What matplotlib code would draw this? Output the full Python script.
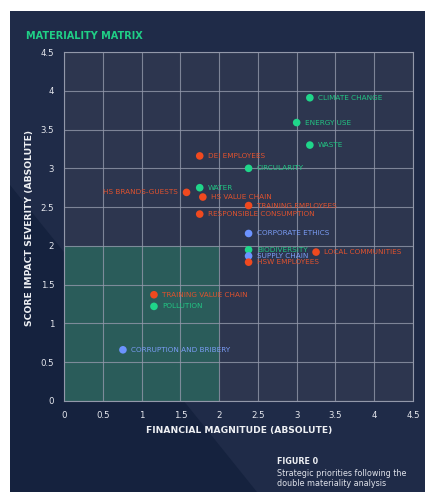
import numpy as np
import matplotlib
matplotlib.use("Agg")
import matplotlib.pyplot as plt
from matplotlib.patches import Polygon, Rectangle

W, H = 425, 492

# data
topics = ["CLIMATE CHANGE", "ENERGY USE", "WASTE", "DEI EMPLOYEES", "CIRCULARITY",
          "WATER", "HS BRANDS-GUESTS", "HS VALUE CHAIN", "TRAINING EMPLOYEES",
          "RESPONSIBLE CONSUMPTION", "CORPORATE ETHICS", "BIODIVERSITY", "SUPPLY CHAIN",
          "HSW EMPLOYEES", "LOCAL COMMUNITIES", "TRAINING VALUE CHAIN", "POLLUTION",
          "CORRUPTION AND BRIBERY"]
financial = [3.17, 3.00, 3.17, 1.75, 2.38, 1.75, 1.58, 1.79, 2.38, 1.75, 2.38, 2.38, 2.38,
             2.38, 3.25, 1.16, 1.16, 0.76]
impact = [3.91, 3.59, 3.30, 3.16, 3.00, 2.75, 2.69, 2.63, 2.52, 2.41, 2.16, 1.95, 1.87,
          1.79, 1.92, 1.37, 1.22, 0.66]
group = ["env", "env", "env", "soc", "env", "env", "soc", "soc", "soc", "soc", "gov", "env",
         "gov", "soc", "soc", "soc", "env", "gov"]
ticks = [0, 0.5, 1, 1.5, 2, 2.5, 3, 3.5, 4, 4.5]
tick_labels = ["0", "0.5", "1", "1.5", "2", "2.5", "3", "3.5", "4", "4.5"]

colors = {"env": "#1fd68a", "soc": "#f0491f", "gov": "#6c93ff"}
label_colors = {"env": "#22c583", "soc": "#e0522e", "gov": "#7a9cf5"}


def fx(px):
    return px / W


def fy(py):
    return 1 - py / H


fig = plt.figure(figsize=(W / 100, H / 100), dpi=100)
fig.patch.set_facecolor("white")

# dark panel with the diagonal split
fig.patches.append(Rectangle((fx(10), 0), 1 - fx(10), fy(11), transform=fig.transFigure,
                             facecolor="#1f2b48", edgecolor="none", zorder=-2))
fig.patches.append(Polygon([(fx(10), fy(185)), (fx(257), fy(492)), (fx(10), fy(492))],
                           closed=True, transform=fig.transFigure,
                           facecolor="#15223e", edgecolor="none", zorder=-1))

ax = fig.add_axes([fx(64), fy(401), (413 - 64) / W, (401 - 52) / H])
ax.set_facecolor("#2d364f")
ax.set_xlim(0, 4.5)
ax.set_ylim(0, 4.5)
ax.add_patch(Rectangle((0, 0), 2, 2, facecolor="#2a5c5a", edgecolor="none", zorder=0))
ax.set_xticks(ticks)
ax.set_xticklabels(tick_labels)
ax.set_yticks(ticks)
ax.set_yticklabels(tick_labels)
ax.grid(True, color="#9298aa", linewidth=0.8, alpha=0.8)
ax.set_axisbelow(True)
for s in ax.spines.values():
    s.set_color("#9298aa")
    s.set_linewidth(0.8)
ax.tick_params(length=0, colors="#e6e8ee", labelsize=6.2, pad=7)

for t, x, y, g in zip(topics, financial, impact, group):
    ax.scatter(x, y, s=30, color=colors[g], edgecolors="none", zorder=3)
    if t == "HS BRANDS-GUESTS":
        ax.annotate(t, (x, y), xytext=(-6, 0), textcoords="offset points", ha="right",
                    va="center", fontsize=5.2, color=label_colors[g], zorder=4)
    else:
        ax.annotate(t, (x, y), xytext=(6, 0), textcoords="offset points", ha="left",
                    va="center", fontsize=5.2, color=label_colors[g], zorder=4)

fig.text(fx(26), fy(36), "MATERIALITY MATRIX", color="#1fcf86", fontsize=7,
         fontweight="bold", ha="left", va="center")
fig.text(fx(239), fy(430), "FINANCIAL MAGNITUDE (ABSOLUTE)", color="#eef0f4", fontsize=6.6,
         fontweight="bold", ha="center", va="center")
fig.text(fx(30), fy(228), "SCORE IMPACT SEVERITY (ABSOLUTE)", color="#eef0f4", fontsize=6.7,
         fontweight="bold", ha="center", va="center", rotation=90)
fig.text(fx(277), fy(462), "FIGURE 0", color="#eef0f4", fontsize=5.8,
         fontweight="bold", ha="left", va="center")
fig.text(fx(277), fy(473), "Strategic priorities following the", color="#dfe2ea",
         fontsize=5.8, ha="left", va="center")
fig.text(fx(277), fy(484), "double materiality analysis", color="#dfe2ea",
         fontsize=5.8, ha="left", va="center")

fig.savefig("out.png", dpi=100)
